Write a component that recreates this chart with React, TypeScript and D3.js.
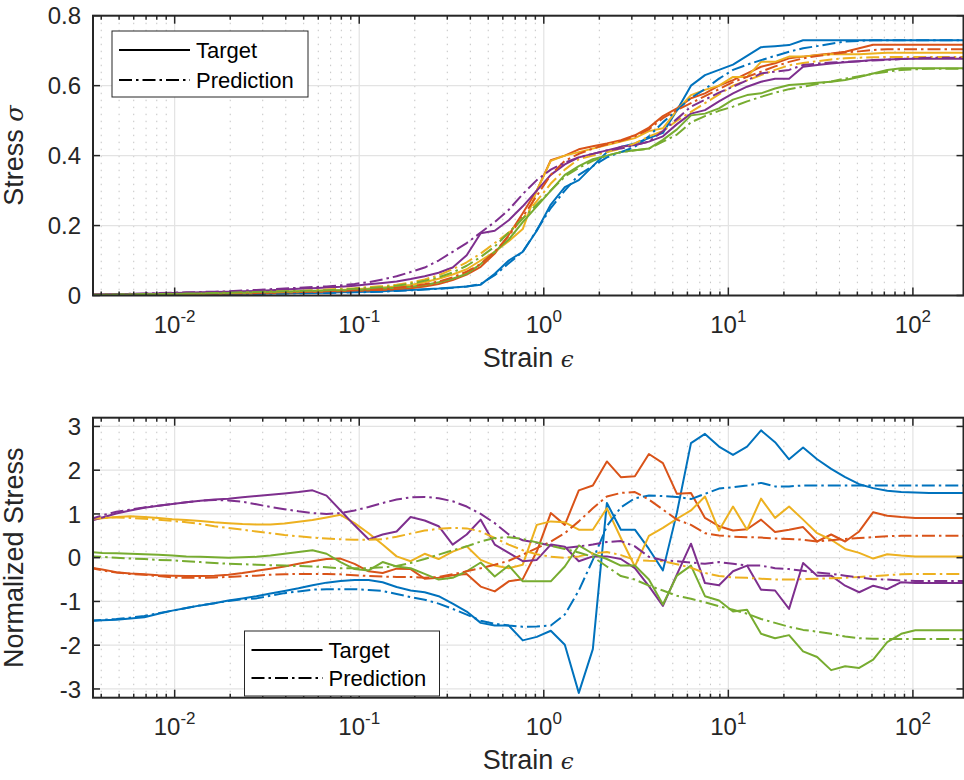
import React from "react";
import * as d3 from "d3";

// ---------- data ----------
const strain = [0.0034, 0.00405, 0.00483, 0.00575, 0.00685, 0.00816, 0.00971, 0.01157, 0.01378, 0.01641, 0.01955, 0.02329, 0.02773, 0.03304, 0.03935, 0.04688, 0.05582, 0.0665, 0.0792, 0.09434, 0.1124, 0.1339, 0.1594, 0.1899, 0.2262, 0.2694, 0.3209, 0.3822, 0.4552, 0.5423, 0.6458, 0.7692, 0.9162, 1.0914, 1.3, 1.548, 1.844, 2.197, 2.616, 3.116, 3.712, 4.421, 5.266, 6.273, 7.471, 8.899, 10.6, 12.63, 15.04, 17.91, 21.33, 25.41, 30.27, 36.06, 42.95, 51.16, 60.94, 72.58, 86.45, 102.97, 122.6, 146.1, 174.0, 207.2];

const seriesColors = ["#0072BD", "#D95319", "#EDB120", "#7E2F8E", "#77AC30"];
const xTickExponents = [-2, -1, 0, 1, 2];
const topYTicks = [0, 0.2, 0.4, 0.6, 0.8];
const topYTickLabels = ["0", "0.2", "0.4", "0.6", "0.8"];
const bottomYTicks = [-3, -2, -1, 0, 1, 2, 3];
const bottomYTickLabels = ["-3", "-2", "-1", "0", "1", "2", "3"];
const legendLabels = ["Target", "Prediction"];

// top panel: stress
const topBlueTarget = [0.001, 0.001, 0.0015, 0.002, 0.002, 0.0025, 0.003, 0.003, 0.0035, 0.004, 0.0045, 0.005, 0.0055, 0.006, 0.0065, 0.007, 0.0075, 0.008, 0.009, 0.01, 0.011, 0.012, 0.014, 0.016, 0.018, 0.02, 0.023, 0.026, 0.031, 0.062, 0.1, 0.125, 0.185, 0.26, 0.31, 0.33, 0.37, 0.41, 0.425, 0.435, 0.45, 0.465, 0.53, 0.6, 0.63, 0.645, 0.66, 0.685, 0.71, 0.713, 0.716, 0.73, 0.73, 0.73, 0.73, 0.73, 0.73, 0.73, 0.73, 0.73, 0.73, 0.73, 0.73, 0.73];
const topBluePred = [0.001, 0.001, 0.0012, 0.0015, 0.002, 0.002, 0.0025, 0.003, 0.003, 0.0035, 0.004, 0.0045, 0.005, 0.0055, 0.006, 0.0065, 0.007, 0.0075, 0.008, 0.009, 0.01, 0.011, 0.013, 0.015, 0.017, 0.019, 0.022, 0.026, 0.033, 0.058, 0.092, 0.125, 0.187, 0.25, 0.3, 0.345, 0.37, 0.395, 0.41, 0.425, 0.455, 0.495, 0.53, 0.565, 0.59, 0.62, 0.645, 0.66, 0.673, 0.685, 0.697, 0.707, 0.713, 0.72, 0.726, 0.728, 0.73, 0.73, 0.73, 0.73, 0.73, 0.73, 0.73, 0.73];
const topOrangeTarget = [0.001, 0.001, 0.0015, 0.002, 0.002, 0.0025, 0.003, 0.0035, 0.004, 0.0045, 0.005, 0.0055, 0.006, 0.007, 0.008, 0.009, 0.01, 0.011, 0.012, 0.013, 0.014, 0.016, 0.018, 0.021, 0.026, 0.033, 0.044, 0.06, 0.082, 0.12, 0.173, 0.235, 0.3, 0.387, 0.4, 0.418, 0.427, 0.435, 0.444, 0.458, 0.48, 0.513, 0.535, 0.564, 0.578, 0.6, 0.616, 0.635, 0.654, 0.664, 0.678, 0.683, 0.688, 0.692, 0.697, 0.707, 0.717, 0.717, 0.717, 0.717, 0.717, 0.717, 0.717, 0.717];
const topOrangePred = [0.001, 0.001, 0.0015, 0.002, 0.0025, 0.003, 0.0035, 0.004, 0.0045, 0.005, 0.0055, 0.006, 0.007, 0.008, 0.009, 0.01, 0.011, 0.012, 0.013, 0.015, 0.017, 0.019, 0.022, 0.026, 0.032, 0.04, 0.052, 0.068, 0.09, 0.125, 0.17, 0.225, 0.285, 0.345, 0.385, 0.405, 0.42, 0.432, 0.442, 0.455, 0.475, 0.507, 0.53, 0.55, 0.57, 0.59, 0.61, 0.625, 0.64, 0.655, 0.668, 0.678, 0.685, 0.69, 0.695, 0.698, 0.702, 0.704, 0.704, 0.704, 0.704, 0.704, 0.704, 0.704];
const topYellowTarget = [0.0015, 0.002, 0.0025, 0.003, 0.0035, 0.004, 0.0045, 0.005, 0.0055, 0.006, 0.007, 0.008, 0.009, 0.01, 0.011, 0.012, 0.013, 0.015, 0.016, 0.018, 0.02, 0.023, 0.026, 0.03, 0.038, 0.048, 0.06, 0.075, 0.1, 0.125, 0.155, 0.19, 0.3, 0.385, 0.4, 0.41, 0.42, 0.43, 0.44, 0.45, 0.47, 0.478, 0.53, 0.573, 0.588, 0.6, 0.625, 0.625, 0.668, 0.668, 0.683, 0.683, 0.687, 0.69, 0.69, 0.69, 0.692, 0.694, 0.694, 0.694, 0.694, 0.694, 0.694, 0.694];
const topYellowPred = [0.002, 0.0025, 0.003, 0.0035, 0.004, 0.0045, 0.005, 0.0055, 0.006, 0.007, 0.008, 0.009, 0.01, 0.011, 0.012, 0.013, 0.015, 0.017, 0.019, 0.021, 0.024, 0.027, 0.031, 0.037, 0.046, 0.058, 0.075, 0.095, 0.12, 0.15, 0.18, 0.22, 0.27, 0.32, 0.36, 0.39, 0.4, 0.41, 0.42, 0.435, 0.455, 0.47, 0.5, 0.525, 0.55, 0.575, 0.6, 0.615, 0.63, 0.645, 0.658, 0.665, 0.67, 0.675, 0.678, 0.68, 0.681, 0.682, 0.682, 0.682, 0.682, 0.682, 0.682, 0.682];
const topPurpleTarget = [0.003, 0.0035, 0.004, 0.0045, 0.005, 0.006, 0.007, 0.008, 0.009, 0.01, 0.011, 0.012, 0.013, 0.015, 0.017, 0.019, 0.021, 0.023, 0.025, 0.028, 0.032, 0.036, 0.04, 0.047, 0.055, 0.065, 0.08, 0.115, 0.178, 0.185, 0.215, 0.255, 0.3, 0.345, 0.375, 0.395, 0.405, 0.415, 0.425, 0.43, 0.44, 0.455, 0.49, 0.52, 0.53, 0.555, 0.578, 0.597, 0.611, 0.62, 0.62, 0.654, 0.659, 0.663, 0.667, 0.67, 0.673, 0.675, 0.676, 0.677, 0.677, 0.677, 0.677, 0.677];
const topPurplePred = [0.003, 0.0035, 0.004, 0.005, 0.006, 0.007, 0.008, 0.009, 0.01, 0.011, 0.012, 0.014, 0.016, 0.018, 0.02, 0.022, 0.024, 0.026, 0.029, 0.033, 0.038, 0.046, 0.055, 0.067, 0.08, 0.1, 0.125, 0.15, 0.18, 0.21, 0.245, 0.29, 0.33, 0.36, 0.38, 0.395, 0.405, 0.415, 0.42, 0.43, 0.44, 0.47, 0.505, 0.54, 0.56, 0.58, 0.597, 0.615, 0.635, 0.64, 0.645, 0.659, 0.663, 0.666, 0.668, 0.67, 0.672, 0.674, 0.676, 0.678, 0.68, 0.68, 0.68, 0.68];
const topGreenTarget = [0.002, 0.002, 0.0025, 0.003, 0.0035, 0.004, 0.0045, 0.005, 0.0055, 0.006, 0.007, 0.008, 0.009, 0.01, 0.011, 0.012, 0.013, 0.014, 0.015, 0.016, 0.018, 0.02, 0.022, 0.025, 0.03, 0.038, 0.048, 0.062, 0.09, 0.125, 0.16, 0.21, 0.255, 0.3, 0.345, 0.37, 0.39, 0.4, 0.41, 0.415, 0.42, 0.445, 0.475, 0.515, 0.52, 0.535, 0.56, 0.573, 0.578, 0.592, 0.602, 0.605, 0.608, 0.611, 0.616, 0.625, 0.635, 0.645, 0.65, 0.65, 0.65, 0.65, 0.65, 0.65];
const topGreenPred = [0.002, 0.0025, 0.003, 0.0035, 0.004, 0.0045, 0.005, 0.0055, 0.006, 0.007, 0.008, 0.009, 0.01, 0.011, 0.012, 0.013, 0.014, 0.015, 0.017, 0.019, 0.021, 0.024, 0.028, 0.034, 0.042, 0.052, 0.066, 0.085, 0.11, 0.14, 0.18, 0.22, 0.26, 0.3, 0.34, 0.365, 0.385, 0.4, 0.41, 0.415, 0.42, 0.44, 0.46, 0.495, 0.513, 0.528, 0.54, 0.555, 0.568, 0.58, 0.59, 0.597, 0.605, 0.612, 0.62, 0.627, 0.634, 0.64, 0.645, 0.647, 0.648, 0.648, 0.648, 0.648];

// bottom panel: normalized stress
const botBlueTarget = [-1.45, -1.43, -1.42, -1.39, -1.36, -1.28, -1.21, -1.15, -1.09, -1.04, -0.98, -0.93, -0.88, -0.82, -0.76, -0.7, -0.63, -0.57, -0.53, -0.51, -0.51, -0.56, -0.67, -0.75, -0.79, -0.88, -1.05, -1.23, -1.49, -1.55, -1.55, -1.89, -1.81, -1.67, -1.99, -3.09, -2.09, 1.25, 0.64, 0.64, 0.2, -0.29, 1.03, 2.62, 2.83, 2.54, 2.35, 2.54, 2.91, 2.64, 2.25, 2.52, 2.25, 2.03, 1.84, 1.68, 1.59, 1.53, 1.5, 1.49, 1.48, 1.48, 1.48, 1.48];
const botBluePred = [-1.44, -1.42, -1.4, -1.37, -1.33, -1.27, -1.21, -1.15, -1.09, -1.04, -0.99, -0.95, -0.93, -0.87, -0.81, -0.77, -0.73, -0.72, -0.72, -0.72, -0.74, -0.76, -0.83, -0.9, -0.96, -1.05, -1.17, -1.3, -1.44, -1.51, -1.55, -1.58, -1.57, -1.55, -1.3, -0.75, -0.05, 0.72, 1.15, 1.36, 1.42, 1.41, 1.39, 1.34, 1.46, 1.58, 1.61, 1.65, 1.71, 1.63, 1.63, 1.65, 1.65, 1.65, 1.65, 1.65, 1.65, 1.65, 1.65, 1.65, 1.65, 1.65, 1.65, 1.65];
const botOrangeTarget = [-0.22, -0.27, -0.33, -0.36, -0.38, -0.4, -0.41, -0.42, -0.42, -0.41, -0.39, -0.35, -0.3, -0.25, -0.2, -0.14, -0.08, -0.03, -0.02, -0.14, -0.31, -0.35, -0.25, -0.26, -0.48, -0.46, -0.4, -0.37, -0.66, -0.77, -0.54, -0.49, 0.14, 1.02, 0.75, 1.54, 1.65, 2.2, 1.84, 1.86, 2.37, 2.16, 1.46, 1.48, 0.91, 0.72, 0.62, 0.65, 0.87, 0.59, 0.64, 0.7, 0.37, 0.53, 0.37, 0.6, 1.04, 0.96, 0.93, 0.91, 0.91, 0.91, 0.91, 0.91];
const botOrangePred = [-0.22, -0.29, -0.34, -0.37, -0.39, -0.42, -0.45, -0.46, -0.46, -0.45, -0.44, -0.42, -0.41, -0.39, -0.38, -0.37, -0.37, -0.37, -0.38, -0.4, -0.42, -0.43, -0.44, -0.44, -0.46, -0.44, -0.38, -0.31, -0.24, -0.16, -0.07, 0.07, 0.22, 0.37, 0.56, 0.83, 1.13, 1.4, 1.48, 1.5, 1.33, 1.1, 0.87, 0.75, 0.56, 0.51, 0.48, 0.47, 0.46, 0.44, 0.43, 0.41, 0.37, 0.4, 0.43, 0.45, 0.47, 0.49, 0.5, 0.5, 0.5, 0.5, 0.5, 0.5];
const botYellowTarget = [0.86, 0.9, 0.93, 0.95, 0.93, 0.91, 0.88, 0.86, 0.84, 0.81, 0.79, 0.77, 0.76, 0.76, 0.78, 0.82, 0.86, 0.92, 0.98, 0.79, 0.56, 0.3, 0.03, -0.08, 0.09, -0.03, 0.14, 0.26, -0.05, -0.18, -0.24, -0.16, 0.75, 0.83, 0.81, 0.64, 0.64, 1.13, 0.45, -0.2, 0.5, 0.68, 0.89, 1.08, 1.4, 0.62, 1.17, 0.64, 1.35, 0.91, 1.17, 0.87, 0.56, 0.41, 0.2, 0.11, -0.02, 0.08, 0.05, 0.03, 0.03, 0.03, 0.03, 0.03];
const botYellowPred = [0.88, 0.91, 0.92, 0.91, 0.89, 0.87, 0.84, 0.81, 0.77, 0.72, 0.68, 0.64, 0.6, 0.56, 0.52, 0.49, 0.46, 0.44, 0.42, 0.41, 0.41, 0.42, 0.48, 0.55, 0.62, 0.66, 0.68, 0.67, 0.6, 0.45, 0.3, 0.17, 0.08, 0.02, 0.0, 0.03, 0.1, 0.13, 0.06, -0.05, -0.07, -0.08, -0.15, -0.23, -0.35, -0.42, -0.45, -0.46, -0.48, -0.5, -0.5, -0.49, -0.48, -0.47, -0.46, -0.44, -0.42, -0.4, -0.38, -0.37, -0.37, -0.37, -0.37, -0.37];
const botPurpleTarget = [0.82, 0.92, 1.01, 1.08, 1.14, 1.19, 1.23, 1.27, 1.3, 1.33, 1.35, 1.38, 1.41, 1.44, 1.47, 1.5, 1.54, 1.42, 1.08, 0.74, 0.42, 0.53, 0.6, 0.93, 0.85, 0.72, 0.3, 0.53, 0.87, 0.3, 0.11, -0.08, -0.05, 0.3, 0.25, -0.08, 0.03, 0.03, -0.03, -0.24, -0.65, -1.1, -0.38, 0.32, -0.58, -0.63, -0.31, -0.18, -0.73, -0.75, -1.17, -0.12, -0.41, -0.41, -0.64, -0.79, -0.64, -0.72, -0.56, -0.58, -0.58, -0.58, -0.58, -0.58];
const botPurplePred = [0.86, 0.97, 1.05, 1.1, 1.15, 1.19, 1.23, 1.27, 1.3, 1.32, 1.31, 1.28, 1.22, 1.16, 1.11, 1.06, 1.02, 1.0, 1.02, 1.08, 1.16, 1.25, 1.33, 1.38, 1.39, 1.36, 1.29, 1.17, 1.0, 0.79, 0.53, 0.4, 0.34, 0.28, 0.22, 0.26, 0.3, 0.36, 0.38, 0.26, 0.02, -0.06, -0.08, -0.11, -0.14, -0.1, -0.14, -0.18, -0.18, -0.24, -0.26, -0.3, -0.34, -0.37, -0.41, -0.45, -0.49, -0.5, -0.52, -0.53, -0.53, -0.53, -0.53, -0.53];
const botGreenTarget = [0.13, 0.11, 0.1, 0.09, 0.08, 0.07, 0.05, 0.03, 0.02, 0.01, 0.0, 0.01, 0.02, 0.05, 0.09, 0.13, 0.17, 0.09, -0.1, -0.26, -0.29, -0.1, -0.2, -0.24, -0.37, -0.5, -0.46, -0.31, -0.11, -0.43, -0.18, -0.54, -0.54, -0.54, -0.2, 0.28, 0.09, -0.03, -0.18, -0.18, -0.5, -1.07, -0.41, -0.18, -0.88, -0.98, -1.23, -1.19, -1.74, -1.84, -1.77, -2.14, -2.27, -2.57, -2.48, -2.52, -2.33, -1.93, -1.74, -1.66, -1.66, -1.66, -1.66, -1.66];
const botGreenPred = [0.03, 0.02, 0.0, -0.02, -0.03, -0.05, -0.06, -0.08, -0.1, -0.12, -0.14, -0.15, -0.16, -0.17, -0.18, -0.19, -0.2, -0.22, -0.24, -0.24, -0.24, -0.22, -0.19, -0.12, -0.03, 0.07, 0.17, 0.26, 0.37, 0.45, 0.47, 0.43, 0.35, 0.27, 0.2, 0.12, 0.02, -0.2, -0.42, -0.5, -0.64, -0.75, -0.87, -0.94, -1.02, -1.11, -1.19, -1.28, -1.4, -1.49, -1.58, -1.65, -1.69, -1.74, -1.8, -1.84, -1.85, -1.86, -1.86, -1.86, -1.86, -1.86, -1.86, -1.86];

const topTargets = [topBlueTarget, topOrangeTarget, topYellowTarget, topPurpleTarget, topGreenTarget];
const topPreds = [topBluePred, topOrangePred, topYellowPred, topPurplePred, topGreenPred];
const botTargets = [botBlueTarget, botOrangeTarget, botYellowTarget, botPurpleTarget, botGreenTarget];
const botPreds = [botBluePred, botOrangePred, botYellowPred, botPurplePred, botGreenPred];

// ---------- styles ----------
const FONT = "'Liberation Sans', Arial, Helvetica, sans-serif";
const INK = "#262626";
const DASHDOT = "13 4 2.5 4";
const X_LEFT = 93;
const X_RIGHT = 963.5;
const X_DOMAIN = [0.00361, 188];
const TICK_FS = 24;
const LABEL_FS = 27;
const LEGEND_FS = 22;

type PanelProps = {
  id: string;
  top: number;
  bottom: number;
  yDomain: [number, number];
  yTicks: number[];
  yTickLabels: string[];
  yLabel: React.ReactNode;
  targets: number[][];
  preds: number[][];
  legend: { x: number; y: number; w: number; h: number; r1: number; r2: number };
};

function Panel(p: PanelProps) {
  const x = d3.scaleLog().domain(X_DOMAIN).range([X_LEFT, X_RIGHT]);
  const y = d3.scaleLinear().domain(p.yDomain).range([p.bottom, p.top]);
  const line = d3
    .line<number>()
    .x((_, i) => x(strain[i]))
    .y((d) => y(d));

  const majors = xTickExponents.map((e) => Math.pow(10, e));
  const minors: number[] = [];
  for (let e = -3; e <= 2; e++) {
    for (let m = 2; m <= 9; m++) {
      const v = m * Math.pow(10, e);
      if (v > X_DOMAIN[0] && v < X_DOMAIN[1]) minors.push(v);
    }
  }
  const clipId = `clip-${p.id}`;
  const lg = p.legend;

  return (
    <g>
      <defs>
        <clipPath id={clipId}>
          <rect x={X_LEFT} y={p.top} width={X_RIGHT - X_LEFT} height={p.bottom - p.top} />
        </clipPath>
      </defs>
      <rect x={X_LEFT} y={p.top} width={X_RIGHT - X_LEFT} height={p.bottom - p.top} fill="#fff" />
      {minors.map((v) => (
        <line key={`mg${v}`} x1={x(v)} x2={x(v)} y1={p.top} y2={p.bottom} stroke="#c4c4c4" strokeWidth={1} strokeDasharray="1.5 5.5" />
      ))}
      {majors.map((v) => (
        <line key={`Mg${v}`} x1={x(v)} x2={x(v)} y1={p.top} y2={p.bottom} stroke="#e3e3e3" strokeWidth={1.2} />
      ))}
      {p.yTicks.map((v) => (
        <line key={`yg${v}`} x1={X_LEFT} x2={X_RIGHT} y1={y(v)} y2={y(v)} stroke="#e3e3e3" strokeWidth={1.2} />
      ))}
      <g clipPath={`url(#${clipId})`} fill="none" strokeWidth={2} strokeLinejoin="round">
        {p.targets.map((s, k) => (
          <path key={`t${k}`} d={line(s) || ""} stroke={seriesColors[k]} />
        ))}
        {p.preds.map((s, k) => (
          <path key={`p${k}`} d={line(s) || ""} stroke={seriesColors[k]} strokeDasharray={DASHDOT} />
        ))}
      </g>
      {majors.map((v) => (
        <g key={`Mt${v}`} stroke={INK} strokeWidth={1.5}>
          <line x1={x(v)} x2={x(v)} y1={p.bottom} y2={p.bottom - 8} />
          <line x1={x(v)} x2={x(v)} y1={p.top} y2={p.top + 8} />
        </g>
      ))}
      {minors.map((v) => (
        <g key={`mt${v}`} stroke={INK} strokeWidth={1.5}>
          <line x1={x(v)} x2={x(v)} y1={p.bottom} y2={p.bottom - 4} />
          <line x1={x(v)} x2={x(v)} y1={p.top} y2={p.top + 4} />
        </g>
      ))}
      {p.yTicks.map((v) => (
        <g key={`yt${v}`} stroke={INK} strokeWidth={1.5}>
          <line x1={X_LEFT} x2={X_LEFT + 7} y1={y(v)} y2={y(v)} />
          <line x1={X_RIGHT} x2={X_RIGHT - 7} y1={y(v)} y2={y(v)} />
        </g>
      ))}
      <rect x={X_LEFT} y={p.top} width={X_RIGHT - X_LEFT} height={p.bottom - p.top} fill="none" stroke={INK} strokeWidth={2} />
      {p.yTicks.map((v, i) => (
        <text key={`yl${v}`} x={81} y={y(v)} dy="0.36em" textAnchor="end" fontSize={TICK_FS} fill={INK} fontFamily={FONT}>
          {p.yTickLabels[i]}
        </text>
      ))}
      {xTickExponents.map((e) => (
        <text key={`xl${e}`} x={x(Math.pow(10, e))} y={p.bottom + 37} textAnchor="middle" fontSize={TICK_FS} fill={INK} fontFamily={FONT}>
          10
          <tspan dy={-11} fontSize={17}>
            {String(e)}
          </tspan>
        </text>
      ))}
      <text x={(X_LEFT + X_RIGHT) / 2} y={p.bottom + 71} textAnchor="middle" fontSize={LABEL_FS} fill={INK} fontFamily={FONT}>
        Strain{" "}
        <tspan fontFamily="'DejaVu Serif', serif" fontStyle="italic" fontSize={23}>
          ϵ
        </tspan>
      </text>
      <text
        transform={`translate(23,${(p.top + p.bottom) / 2}) rotate(-90)`}
        textAnchor="middle"
        fontSize={LABEL_FS}
        fill={INK}
        fontFamily={FONT}
      >
        {p.yLabel}
      </text>
      <g>
        <rect x={lg.x} y={lg.y} width={lg.w} height={lg.h} fill="#fff" stroke={INK} strokeWidth={1} />
        <line x1={lg.x + 7} x2={lg.x + 78} y1={lg.y + lg.r1} y2={lg.y + lg.r1} stroke="#000" strokeWidth={2} />
        <line x1={lg.x + 7} x2={lg.x + 78} y1={lg.y + lg.r2} y2={lg.y + lg.r2} stroke="#000" strokeWidth={2} strokeDasharray={DASHDOT} />
        <text x={lg.x + 84} y={lg.y + lg.r1} dy="0.36em" fontSize={LEGEND_FS} fill="#000" fontFamily={FONT}>
          {legendLabels[0]}
        </text>
        <text x={lg.x + 84} y={lg.y + lg.r2} dy="0.36em" fontSize={LEGEND_FS} fill="#000" fontFamily={FONT}>
          {legendLabels[1]}
        </text>
      </g>
    </g>
  );
}

export default function App() {
  return (
    <svg
      width={964}
      height={780}
      viewBox="0 0 964 780"
      style={{ position: "absolute", left: 0, top: 0, background: "#fff" }}
    >
      <rect x={0} y={0} width={964} height={780} fill="#fff" />
      <Panel
        id="top"
        top={15.7}
        bottom={295.5}
        yDomain={[0, 0.8]}
        yTicks={topYTicks}
        yTickLabels={topYTickLabels}
        yLabel={
          <>
            Stress{" "}
            <tspan fontFamily="'DejaVu Serif', serif" fontStyle="italic" fontSize={24}>
              σ
            </tspan>
          </>
        }
        targets={topTargets}
        preds={topPreds}
        legend={{ x: 112, y: 31, w: 196, h: 66, r1: 19, r2: 49 }}
      />
      <Panel
        id="bottom"
        top={417.7}
        bottom={697.7}
        yDomain={[-3.2, 3.2]}
        yTicks={bottomYTicks}
        yTickLabels={bottomYTickLabels}
        yLabel={<>Normalized Stress</>}
        targets={botTargets}
        preds={botPreds}
        legend={{ x: 244.5, y: 631, w: 195, h: 65, r1: 19, r2: 47 }}
      />
    </svg>
  );
}
